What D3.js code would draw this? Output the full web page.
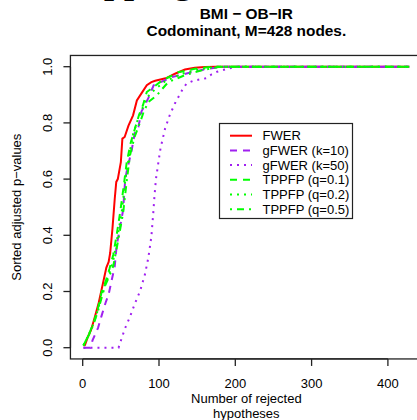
<!DOCTYPE html>
<html lang="en">
<head>
  <meta charset="UTF-8">
  <title>BMI - OB-IR sorted adjusted p-values</title>
  <style>
    body { margin: 0; background: #fff; }
    svg { display: block; font-family: "Liberation Sans", Arial, sans-serif; }
    .tick-label { font-size: 13px; fill: #000; }
    .legend text { font-size: 13px; fill: #000; }
  </style>
</head>
<body>
  <svg width="417" height="420"></svg>
  <script src="https://d3js.org/d3.v7.min.js"></script>
  <script>
    // values (rank -> sorted adjusted p-value)
    const fwerRank = [1, 3, 7, 11, 16, 21, 27, 31, 34, 36, 39, 42, 44, 46, 50, 52, 55, 60, 66, 71, 77, 84, 90, 95, 110, 121, 134, 147, 160, 175, 428];
    const fwerP = [0.008, 0.01, 0.04, 0.063, 0.11, 0.16, 0.235, 0.285, 0.305, 0.337, 0.424, 0.53, 0.59, 0.60, 0.66, 0.744, 0.75, 0.79, 0.827, 0.88, 0.905, 0.934, 0.945, 0.95, 0.96, 0.975, 0.99, 0.996, 0.999, 1, 1];

    const gfwer10Rank = [1, 10, 13, 20, 25, 30, 34, 38, 42, 44.5, 47, 53, 55.5, 57.5, 64, 68.5, 73, 77, 86, 93, 117, 145, 165, 184, 428];
    const gfwer10P = [0, 0, 0.027, 0.07, 0.116, 0.16, 0.19, 0.24, 0.29, 0.364, 0.40, 0.49, 0.59, 0.625, 0.70, 0.768, 0.786, 0.84, 0.888, 0.934, 0.963, 0.982, 0.993, 1, 1];

    const gfwer50Rank = [1, 47, 51, 55.5, 62, 68.5, 75, 81.5, 86, 90, 92.5, 94, 96, 99, 102, 108, 114, 121, 130, 136, 145, 154, 162, 169, 176, 184, 192, 202, 428];
    const gfwer50P = [0, 0, 0.033, 0.069, 0.11, 0.158, 0.2, 0.26, 0.32, 0.395, 0.48, 0.537, 0.6, 0.656, 0.71, 0.78, 0.827, 0.87, 0.915, 0.94, 0.95, 0.955, 0.959, 0.973, 0.982, 0.988, 0.994, 1, 1];

    const tppfp1Rank = [1, 5, 10, 15, 20, 25, 30, 35, 40, 45, 49, 53, 57.7, 63, 68.5, 74, 79, 84, 93, 103.5, 125, 147, 170, 428];
    const tppfp1P = [0.008, 0.03, 0.06, 0.095, 0.14, 0.2, 0.235, 0.28, 0.33, 0.41, 0.48, 0.56, 0.66, 0.73, 0.78, 0.83, 0.863, 0.91, 0.928, 0.95, 0.98, 0.993, 1, 1];

    const tppfp2Rank = [1, 5, 10, 15, 20, 25, 30, 35, 40, 45, 51, 56, 60, 66, 72, 78, 84, 95, 108, 130, 152, 175, 428];
    const tppfp2P = [0.008, 0.03, 0.058, 0.092, 0.135, 0.19, 0.23, 0.265, 0.31, 0.385, 0.48, 0.6, 0.67, 0.76, 0.81, 0.85, 0.89, 0.92, 0.948, 0.975, 0.99, 1, 1];

    const tppfp5Rank = [1, 5, 10, 15, 20, 25, 30, 35, 40, 45, 53, 58, 62, 68, 75, 80, 86, 97, 112, 134, 156, 180, 428];
    const tppfp5P = [0.008, 0.03, 0.055, 0.09, 0.13, 0.18, 0.225, 0.255, 0.29, 0.36, 0.48, 0.6, 0.685, 0.75, 0.80, 0.84, 0.874, 0.898, 0.945, 0.97, 0.987, 1, 1];

    const seriesNames = ["FWER", "gFWER (k=10)", "gFWER (k=50)", "TPPFP (q=0.1)", "TPPFP (q=0.2)", "TPPFP (q=0.5)"];
    const xTicks = [0, 100, 200, 300, 400];
    const yTicks = [0, 0.2, 0.4, 0.6, 0.8, 1.0];

    const series = [
      { name: seriesNames[0], rank: fwerRank, p: fwerP, color: "#ff0000", dash: null },
      { name: seriesNames[1], rank: gfwer10Rank, p: gfwer10P, color: "#a020f0", dash: "7,6" },
      { name: seriesNames[2], rank: gfwer50Rank, p: gfwer50P, color: "#a020f0", dash: "2,5" },
      { name: seriesNames[3], rank: tppfp1Rank, p: tppfp1P, color: "#00ff00", dash: "7,6" },
      { name: seriesNames[4], rank: tppfp2Rank, p: tppfp2P, color: "#00ff00", dash: "2,5" },
      { name: seriesNames[5], rank: tppfp5Rank, p: tppfp5P, color: "#00ff00", dash: "2,5,7,5" }
    ];

    const svg = d3.select("svg");
    svg.append("rect").attr("width", 417).attr("height", 420).attr("fill", "#fff");

    const x = d3.scaleLinear().domain([0, 400]).range([82.7, 387.9]);
    const y = d3.scaleLinear().domain([0, 1]).range([347.7, 66.7]);

    // R style: plot region extends 4% beyond data range
    const x0 = x(1 - 0.04 * 427), x1 = x(428 + 0.04 * 427);
    const y0 = y(-0.04), y1 = y(1.04);

    // cropped page heading above the figure
    svg.append("text")
      .attr("x", 52).attr("y", -7.5)
      .attr("font-family", "Liberation Serif, serif")
      .attr("font-weight", "bold")
      .attr("font-size", 36)
      .text("Mapping");

    // titles
    const cx = (x0 + x1) / 2;
    svg.append("text").attr("x", cx).attr("y", 19)
      .attr("text-anchor", "middle").attr("font-weight", "bold").attr("font-size", 15.4)
      .text("BMI \u2212 OB\u2212IR");
    svg.append("text").attr("x", cx).attr("y", 36)
      .attr("text-anchor", "middle").attr("font-weight", "bold").attr("font-size", 15.4)
      .text("Codominant, M=428 nodes.");

    // lines
    const line = d3.line()
      .x(d => x(d[0]))
      .y(d => y(d[1]));

    svg.append("defs").append("clipPath").attr("id", "plotclip")
      .append("rect").attr("x", x0).attr("y", y1).attr("width", x1 - x0).attr("height", y0 - y1);

    svg.append("g").attr("clip-path", "url(#plotclip)")
      .selectAll("path")
      .data(series)
      .join("path")
      .attr("d", s => line(d3.zip(s.rank, s.p)))
      .attr("fill", "none")
      .attr("stroke", s => s.color)
      .attr("stroke-width", 2)
      .attr("stroke-dasharray", s => s.dash);

    // box
    svg.append("rect")
      .attr("x", x0).attr("y", y1)
      .attr("width", x1 - x0).attr("height", y0 - y1)
      .attr("fill", "none").attr("stroke", "#222").attr("stroke-width", 1.3);

    // x axis
    const xAxis = svg.append("g");
    xAxis.append("line")
      .attr("x1", x(0)).attr("x2", x(400)).attr("y1", y0).attr("y2", y0)
      .attr("stroke", "#222").attr("stroke-width", 1.3);
    xAxis.selectAll("line.tk").data(xTicks).join("line").attr("class", "tk")
      .attr("x1", d => x(d)).attr("x2", d => x(d))
      .attr("y1", y0).attr("y2", y0 + 7)
      .attr("stroke", "#222").attr("stroke-width", 1.3);
    xAxis.selectAll("text").data(xTicks).join("text")
      .attr("class", "tick-label")
      .attr("x", d => x(d)).attr("y", 388)
      .attr("text-anchor", "middle")
      .text(d => d);

    svg.append("text").attr("x", cx).attr("y", 403)
      .attr("text-anchor", "middle").attr("font-size", 13)
      .text("Number of rejected");
    svg.append("text").attr("x", cx).attr("y", 418)
      .attr("text-anchor", "middle").attr("font-size", 13)
      .text("hypotheses");

    // y axis
    const yAxis = svg.append("g");
    yAxis.append("line")
      .attr("x1", x0).attr("x2", x0).attr("y1", y(0)).attr("y2", y(1))
      .attr("stroke", "#222").attr("stroke-width", 1.3);
    yAxis.selectAll("line.tk").data(yTicks).join("line").attr("class", "tk")
      .attr("x1", x0).attr("x2", x0 - 7)
      .attr("y1", d => y(d)).attr("y2", d => y(d))
      .attr("stroke", "#222").attr("stroke-width", 1.3);
    yAxis.selectAll("text").data(yTicks).join("text")
      .attr("class", "tick-label")
      .attr("transform", d => `translate(52,${y(d)}) rotate(-90)`)
      .attr("text-anchor", "middle")
      .text(d => d3.format(".1f")(d));

    svg.append("text")
      .attr("transform", `translate(21,${(y0 + y1) / 2}) rotate(-90)`)
      .attr("text-anchor", "middle").attr("font-size", 13)
      .text("Sorted adjusted p\u2212values");

    // legend
    const legend = svg.append("g").attr("class", "legend");
    legend.append("rect")
      .attr("x", 219.5).attr("y", 123.5).attr("width", 133).attr("height", 95)
      .attr("fill", "#fff").attr("stroke", "#222").attr("stroke-width", 1.2);
    const row = legend.selectAll("g.row").data(series).join("g").attr("class", "row")
      .attr("transform", (d, i) => `translate(0,${135.7 + i * 14.7})`);
    row.append("line")
      .attr("x1", 230).attr("x2", 252).attr("y1", 0).attr("y2", 0)
      .attr("stroke", d => d.color).attr("stroke-width", 2)
      .attr("stroke-dasharray", d => d.dash);
    row.append("text")
      .attr("x", 262.5).attr("y", 4.6)
      .text(d => d.name);
  </script>
</body>
</html>
